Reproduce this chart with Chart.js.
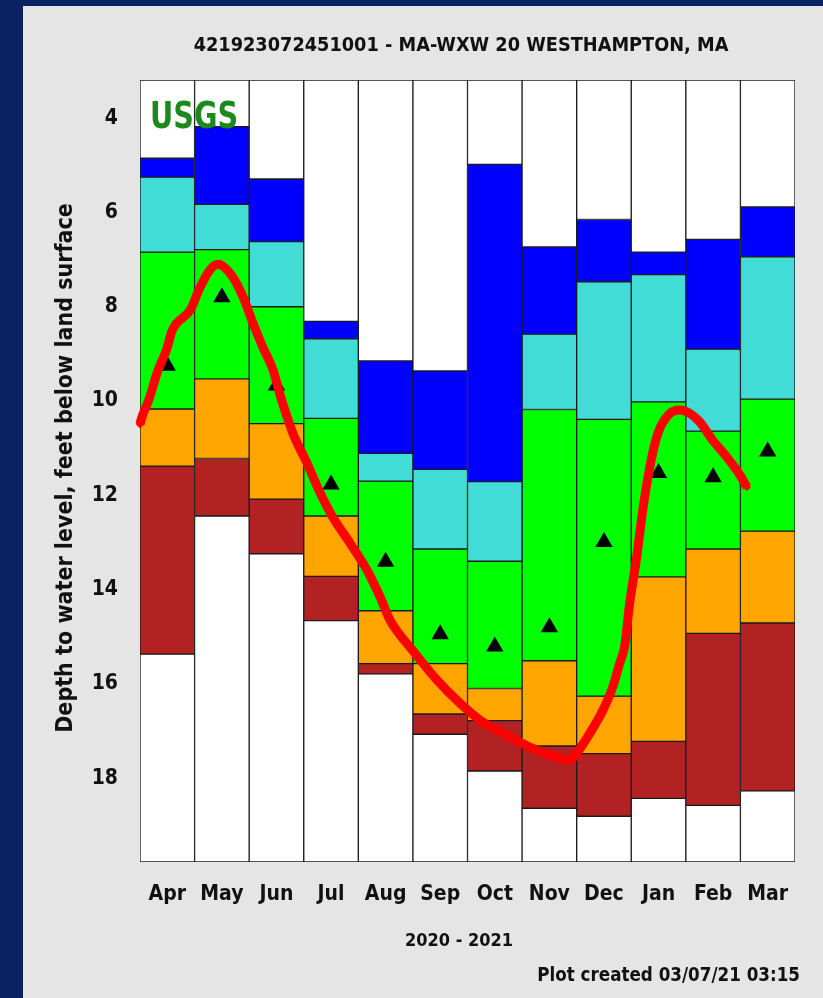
<!DOCTYPE html>
<html>
<head>
<meta charset="utf-8">
<script src="https://cdn.jsdelivr.net/npm/chart.js@4.4.0/dist/chart.umd.min.js"></script>
<style>
  html, body { margin: 0; padding: 0; background: #0b2262; }
</style>
</head>
<body>
<canvas id="chart" width="823" height="998"></canvas>
<script>
// monthly percentile bands, depth in feet below land surface
const months = ['Apr', 'May', 'Jun', 'Jul', 'Aug', 'Sep', 'Oct', 'Nov', 'Dec', 'Jan', 'Feb', 'Mar']
const recordHigh = [4.85, 4.18, 5.29, 8.31, 9.15, 9.36, 4.98, 6.73, 6.15, 6.84, 6.57, 5.88]
const pct90 = [5.25, 5.83, 6.62, 8.68, 11.11, 11.45, 11.71, 8.58, 7.47, 7.32, 8.90, 6.94]
const pct75 = [6.84, 6.79, 8.00, 10.37, 11.70, 13.14, 13.40, 10.18, 10.39, 10.02, 10.64, 9.96]
const pct25 = [10.17, 9.53, 10.48, 12.44, 14.45, 15.57, 16.10, 15.51, 16.26, 13.73, 13.14, 12.76]
const pct10 = [11.38, 11.22, 12.08, 13.72, 15.57, 16.64, 16.78, 17.32, 17.48, 17.22, 14.93, 14.71]
const recordLow = [15.37, 12.44, 13.24, 14.66, 15.79, 17.07, 17.85, 18.64, 18.81, 18.43, 18.58, 18.27]
const medians = [9.25, 7.8, 9.67, 11.77, 13.41, 14.95, 15.21, 14.8, 12.99, 11.53, 11.62, 11.07]

// measured water level, months since Apr 1 2020
const levelMonth = [0.0, 0.02, 0.16, 0.33, 0.49, 0.59, 0.92, 1.10, 1.28, 1.43, 1.70, 1.89, 2.07, 2.25, 2.44, 2.56,
  2.80, 3.06, 3.30, 3.53, 3.85, 4.16, 4.40, 4.58, 5.0, 5.44, 5.86, 6.23, 6.65, 7.14, 7.64, 7.88, 8.0, 8.24,
  8.48, 8.66, 8.79, 8.88, 8.97, 9.10, 9.21, 9.34, 9.49, 9.71, 9.89, 10.07, 10.26, 10.49, 10.75, 10.99, 11.12]
const levelDepth = [10.5, 10.4, 9.98, 9.35, 8.90, 8.50, 8.07, 7.59, 7.22, 7.10, 7.37, 7.80, 8.35, 8.86, 9.35, 9.85,
  10.68, 11.32, 11.95, 12.46, 13.02, 13.59, 14.16, 14.65, 15.30, 15.92, 16.41, 16.77, 17.05, 17.34, 17.56, 17.62, 17.47, 17.05,
  16.56, 16.07, 15.56, 15.2, 14.3, 13.31, 12.32, 11.40, 10.68, 10.26, 10.19, 10.26, 10.45, 10.83, 11.19, 11.57, 11.83]

const yTicks = [4, 6, 8, 10, 12, 14, 16, 18]
const yTop = 3.19
const yBottom = 19.78

const FONT = "'DejaVu Sans Condensed', 'Liberation Sans', sans-serif"

const pairs = ( a, b ) => a.map( ( v, i ) => [ v, b[ i ] ] )

const band = ( label, data, color ) => ( {
  type: 'bar',
  label,
  data,
  backgroundColor: color,
  borderColor: '#1b1b1b',
  borderWidth: 1,
  borderSkipped: false,
  grouped: false,
  barPercentage: 1,
  categoryPercentage: 1,
  order: 3
} )

// size the text so it spans the given width
function fitText( ctx, text, x, y, width ) {
  ctx.font = `bold 20px ${FONT}`
  const size = 20 * width / ctx.measureText( text ).width
  ctx.font = `bold ${size.toFixed( 2 )}px ${FONT}`
  ctx.fillText( text, x, y )
}

const backdrop = {
  id: 'backdrop',
  beforeDraw( chart ) {
    const { ctx, width, height } = chart
    ctx.save()
    ctx.fillStyle = '#0b2262'
    ctx.fillRect( 0, 0, width, height )
    ctx.fillStyle = '#e5e5e5'
    ctx.fillRect( 23, 6, width - 23, height - 6 )
    ctx.restore()
  }
}

const labels = {
  id: 'labels',
  afterDraw( chart ) {
    const { ctx } = chart
    ctx.save()
    ctx.fillStyle = '#111'
    ctx.textBaseline = 'middle'
    ctx.textAlign = 'center'
    fitText( ctx, '421923072451001 - MA-WXW 20 WESTHAMPTON, MA', 461, 46, 535 )
    fitText( ctx, '2020 - 2021', 459, 941, 108 )
    ctx.textAlign = 'right'
    fitText( ctx, 'Plot created 03/07/21 03:15', 800, 976, 263 )
    ctx.save()
    ctx.translate( 66, 468 )
    ctx.rotate( -Math.PI / 2 )
    ctx.textAlign = 'center'
    fitText( ctx, 'Depth to water level, feet below land surface', 0, 0, 530 )
    ctx.restore()

    // tall, squeezed USGS mark
    ctx.fillStyle = '#1b8a1b'
    ctx.textAlign = 'left'
    ctx.textBaseline = 'alphabetic'
    ctx.font = `bold 37px ${FONT}`
    const w = ctx.measureText( 'USGS' ).width
    ctx.translate( 150, 128 )
    ctx.scale( 88 / w, 1 )
    ctx.fillText( 'USGS', 0, 0 )
    ctx.restore()
  }
}

new Chart( document.getElementById( 'chart' ), {
  data: {
    labels: months,
    datasets: [
      band( 'above record', months.map( ( m, i ) => [ yTop, recordHigh[ i ] ] ), '#ffffff' ),
      band( '> 90th', pairs( recordHigh, pct90 ), '#0000ff' ),
      band( '76-90th', pairs( pct90, pct75 ), '#42dcd6' ),
      band( '25-75th', pairs( pct75, pct25 ), '#00ff00' ),
      band( '10-24th', pairs( pct25, pct10 ), '#ffa500' ),
      band( '< 10th', pairs( pct10, recordLow ), '#b22222' ),
      band( 'below record', months.map( ( m, i ) => [ recordLow[ i ], yBottom ] ), '#ffffff' ),
      {
        type: 'line',
        label: 'median',
        xAxisID: 'x2',
        data: medians.map( ( v, i ) => ( { x: i + 0.5, y: v } ) ),
        showLine: false,
        pointStyle: 'triangle',
        pointRadius: 10,
        backgroundColor: '#000',
        borderColor: '#000',
        borderWidth: 0,
        order: 2
      },
      {
        type: 'line',
        label: 'water level',
        xAxisID: 'x2',
        data: levelMonth.map( ( m, i ) => ( { x: m, y: levelDepth[ i ] } ) ),
        borderColor: '#ff0000',
        backgroundColor: '#ff0000',
        borderWidth: 9,
        pointStyle: 'rectRot',
        pointRadius: 4,
        pointBorderWidth: 0,
        cubicInterpolationMode: 'monotone',
        clip: false,
        order: 1
      }
    ]
  },
  options: {
    responsive: false,
    animation: false,
    layout: { padding: { top: 80, right: 28, left: 0, bottom: 0 } },
    plugins: {
      legend: { display: false },
      tooltip: { enabled: false },
      title: { display: false }
    },
    scales: {
      x: {
        type: 'category',
        grid: { display: false, drawTicks: false },
        border: { display: false },
        ticks: { color: '#111', padding: 20, font: { family: FONT, size: 21, weight: 'bold' } },
        afterFit( scale ) { scale.height = 136 }
      },
      x2: { type: 'linear', display: false, min: 0, max: 12 },
      y: {
        type: 'linear',
        reverse: true,
        min: yTop,
        max: yBottom,
        grid: { display: false, drawTicks: false },
        border: { display: false },
        ticks: { color: '#111', padding: 22, font: { family: FONT, size: 21, weight: 'bold' } },
        afterBuildTicks( scale ) { scale.ticks = yTicks.map( v => ( { value: v } ) ) },
        afterFit( scale ) { scale.width = 140 }
      }
    }
  },
  plugins: [ backdrop, labels ]
} )
</script>
</body>
</html>
